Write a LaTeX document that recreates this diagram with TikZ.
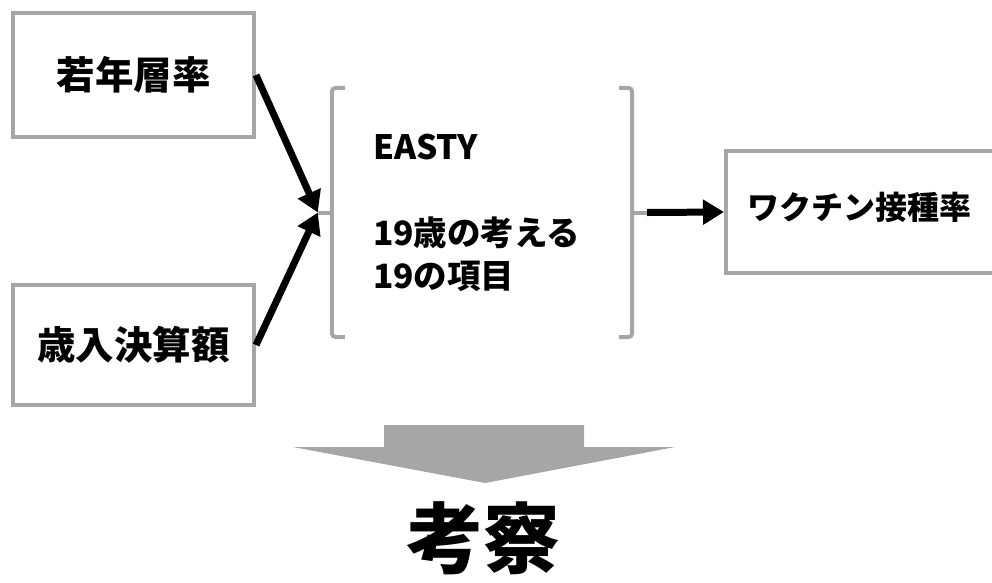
\documentclass[tikz,border=0pt]{standalone}
\usepackage{fontspec}
\setmainfont{Noto Sans CJK JP}
\usetikzlibrary{arrows.meta,calc}
\definecolor{frame}{HTML}{A6A6A6}
\tikzset{
  x=1pt, y=-1pt,
  boxnode/.style={draw=frame, line width=4pt, minimum width=241pt, inner sep=0pt, font=\fontsize{38.5}{42}\selectfont\bfseries},
  bracketline/.style={draw=frame, line width=4pt, rounded corners=4pt},
  flowarrow/.style={draw=black, line width=7pt, -{Triangle[length=21pt,width=24pt]}},
}
\begin{document}
\begin{tikzpicture}
\useasboundingbox (0,0) rectangle (992,582);
% left boxes
\node[boxnode, minimum height=124pt] (young) at (133.5,75) {若年層率};
\node[boxnode, minimum height=120pt] (rev) at (133.5,345) {歳入決算額};
% bracket group
\node[minimum width=300pt, minimum height=249pt, inner xsep=41pt, inner ysep=0pt, text width=218pt, align=left,
      font=\fontsize{33.5}{43}\selectfont\bfseries] (easty) at (482,212.5)
      {EASTY\\[43pt]19歳の考える\\19の項目};
\draw[bracketline] ($(easty.north west)+(13,0)$) -- (easty.north west) -- (easty.south west) -- ($(easty.south west)+(13,0)$);
\draw[bracketline] ($(easty.north east)+(-13,0)$) -- (easty.north east) -- (easty.south east) -- ($(easty.south east)+(-13,0)$);
\coordinate (lt) at ($(easty.west)+(-14,0)$);
\coordinate (rt) at ($(easty.east)+(15,0)$);
\draw[draw=frame, line width=4pt] (easty.west) -- (lt);
\draw[draw=frame, line width=4pt] (easty.east) -- (rt);
% right box (open to the right edge)
\node[draw=frame, line width=4pt, minimum width=290pt, minimum height=122pt, inner sep=0pt] (vacbox) at (871,212) {};
\node[font=\fontsize{32}{36}\selectfont\bfseries, inner sep=0pt] (vac) at (859,207) {ワクチン接種率};
% arrows
\draw[flowarrow] (young.east) -- (lt);
\draw[flowarrow] (rev.east) -- (lt);
\draw[flowarrow] (rt) -- (vacbox.west);
% big down arrow
\fill[frame] (384,425) -- (584,425) -- (584,447) -- (675,447) -- (485,483) -- (293,447) -- (384,447) -- cycle;
\node[font=\fontsize{77}{80}\selectfont\bfseries, inner sep=0pt, anchor=north] (kosatsu) at (483,501) {考察};
\end{tikzpicture}
\end{document}
